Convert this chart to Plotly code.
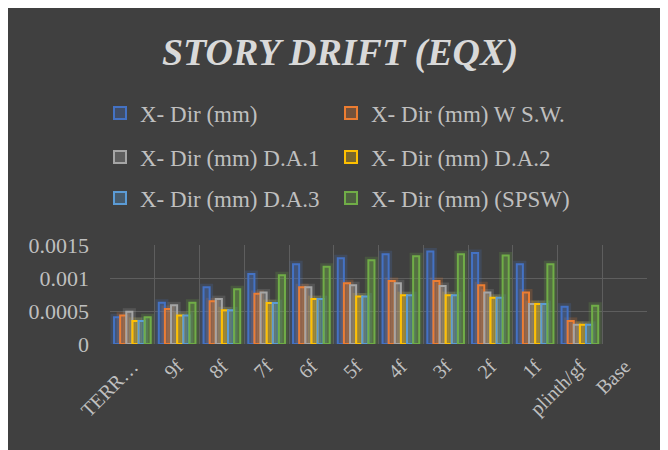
import plotly.graph_objects as go

categories = ["TERR…", "9f", "8f", "7f", "6f", "5f", "4f", "3f", "2f", "1f", "plinth/gf", "Base"]

x_dir = [0.000405, 0.000626, 0.00086, 0.00106, 0.00121, 0.00130, 0.00136, 0.00140, 0.00138, 0.00121, 0.000566, None]
x_dir_wsw = [0.00043, 0.00053, 0.000646, 0.00076, 0.00086, 0.00092, 0.000955, 0.000955, 0.00089, 0.00078, 0.00035, None]
x_dir_da1 = [0.00049, 0.000586, 0.00068, 0.00078, 0.00086, 0.00089, 0.00092, 0.00088, 0.00078, 0.000606, 0.00029, None]
x_dir_da2 = [0.00035, 0.00043, 0.00051, 0.00062, 0.00068, 0.00072, 0.00074, 0.00074, 0.00070, 0.000606, 0.00029, None]
x_dir_da3 = [0.00035, 0.00043, 0.00051, 0.00062, 0.00068, 0.00072, 0.00074, 0.00074, 0.00070, 0.000606, 0.00029, None]
x_dir_spsw = [0.000405, 0.000626, 0.00083, 0.00104, 0.00117, 0.00127, 0.00133, 0.00136, 0.00134, 0.00121, 0.00058, None]

series_names = ["X- Dir (mm)", "X- Dir (mm) W S.W.", "X- Dir (mm) D.A.1",
                "X- Dir (mm) D.A.2", "X- Dir (mm) D.A.3", "X- Dir (mm) (SPSW)"]
series_values = [x_dir, x_dir_wsw, x_dir_da1, x_dir_da2, x_dir_da3, x_dir_spsw]
colors = [(68, 114, 196), (237, 125, 49), (165, 165, 165), (255, 192, 0), (91, 155, 213), (112, 173, 71)]
legend_ids = ["legend", "legend2", "legend3", "legend4", "legend5", "legend6"]

ytick_vals = [0, 0.0005, 0.001, 0.0015]
ytick_text = ["0", "0.0005", "0.001", "0.0015"]

# page body margin offsets the figure by 8px; figure sized to fill the rest of the window
OFF = 8
W, H = 668 - OFF, 450 - OFF
L, R, T, B = 110 - OFF, 668 - 647, 245 - OFF, 450 - 344
PW = W - L - R
PH = H - T - B

def px_x(sx):
    return (sx - OFF - L) / PW

def px_y(sy):
    return (H - B - (sy - OFF)) / PH

fig = go.Figure()
# soft glow behind each bar
for i, (vals, c) in enumerate(zip(series_values, colors)):
    fig.add_trace(go.Bar(
        x=categories, y=vals, offsetgroup=str(i), showlegend=False, hoverinfo="skip",
        marker=dict(color="rgba(0,0,0,0)",
                    line=dict(color="rgba(%d,%d,%d,0.2)" % c, width=7)),
    ))
for i, (name, vals, c, lg) in enumerate(zip(series_names, series_values, colors, legend_ids)):
    fig.add_trace(go.Bar(
        x=categories, y=vals, name=name, legend=lg, offsetgroup=str(i),
        marker=dict(color="rgba(%d,%d,%d,0.30)" % c,
                    line=dict(color="rgb(%d,%d,%d)" % c, width=2)),
    ))

font_family = "Liberation Serif, Times New Roman, serif"
leg_common = dict(orientation="v", xanchor="left", yanchor="middle",
                  bgcolor="rgba(0,0,0,0)",
                  font=dict(family=font_family, size=23, color="#bfbfbf"))
col_x = [100, 331]
row_y = [113, 157, 198]
legend_layout = {}
for k, lg in enumerate(legend_ids):
    legend_layout[lg] = dict(x=px_x(col_x[k % 2]), y=px_y(row_y[k // 2]), **leg_common)

fig.update_layout(
    width=W, height=H,
    margin=dict(l=L, r=R, t=T, b=B, autoexpand=False),
    paper_bgcolor="#404040", plot_bgcolor="#404040",
    barmode="group", bargap=0.18, bargroupgap=0,
    title=dict(text="<b><i>STORY DRIFT (EQX)</i></b>", x=(340 - OFF) / W, xref="container", xanchor="center",
               y=1 - (52 - OFF) / H, yref="container", yanchor="middle",
               font=dict(family=font_family, size=38, color="#d9d9d9")),
    xaxis=dict(type="category", tickson="boundaries", showgrid=True, gridcolor="#5e5e5e", gridwidth=1,
               ticks="", tickangle=-45, ticklabelstandoff=6, range=[-0.5, 11.5],
               tickfont=dict(family=font_family, size=20, color="#bfbfbf"),
               showline=False, zeroline=False),
    yaxis=dict(range=[0, 0.0015], tickvals=ytick_vals, ticktext=ytick_text, showgrid=True,
               gridcolor="#5e5e5e", gridwidth=1, ticks="", ticklabelstandoff=20,
               tickfont=dict(family=font_family, size=22, color="#bfbfbf"),
               zeroline=False, showline=False),
    **legend_layout,
)

fig.write_html("out.html")
